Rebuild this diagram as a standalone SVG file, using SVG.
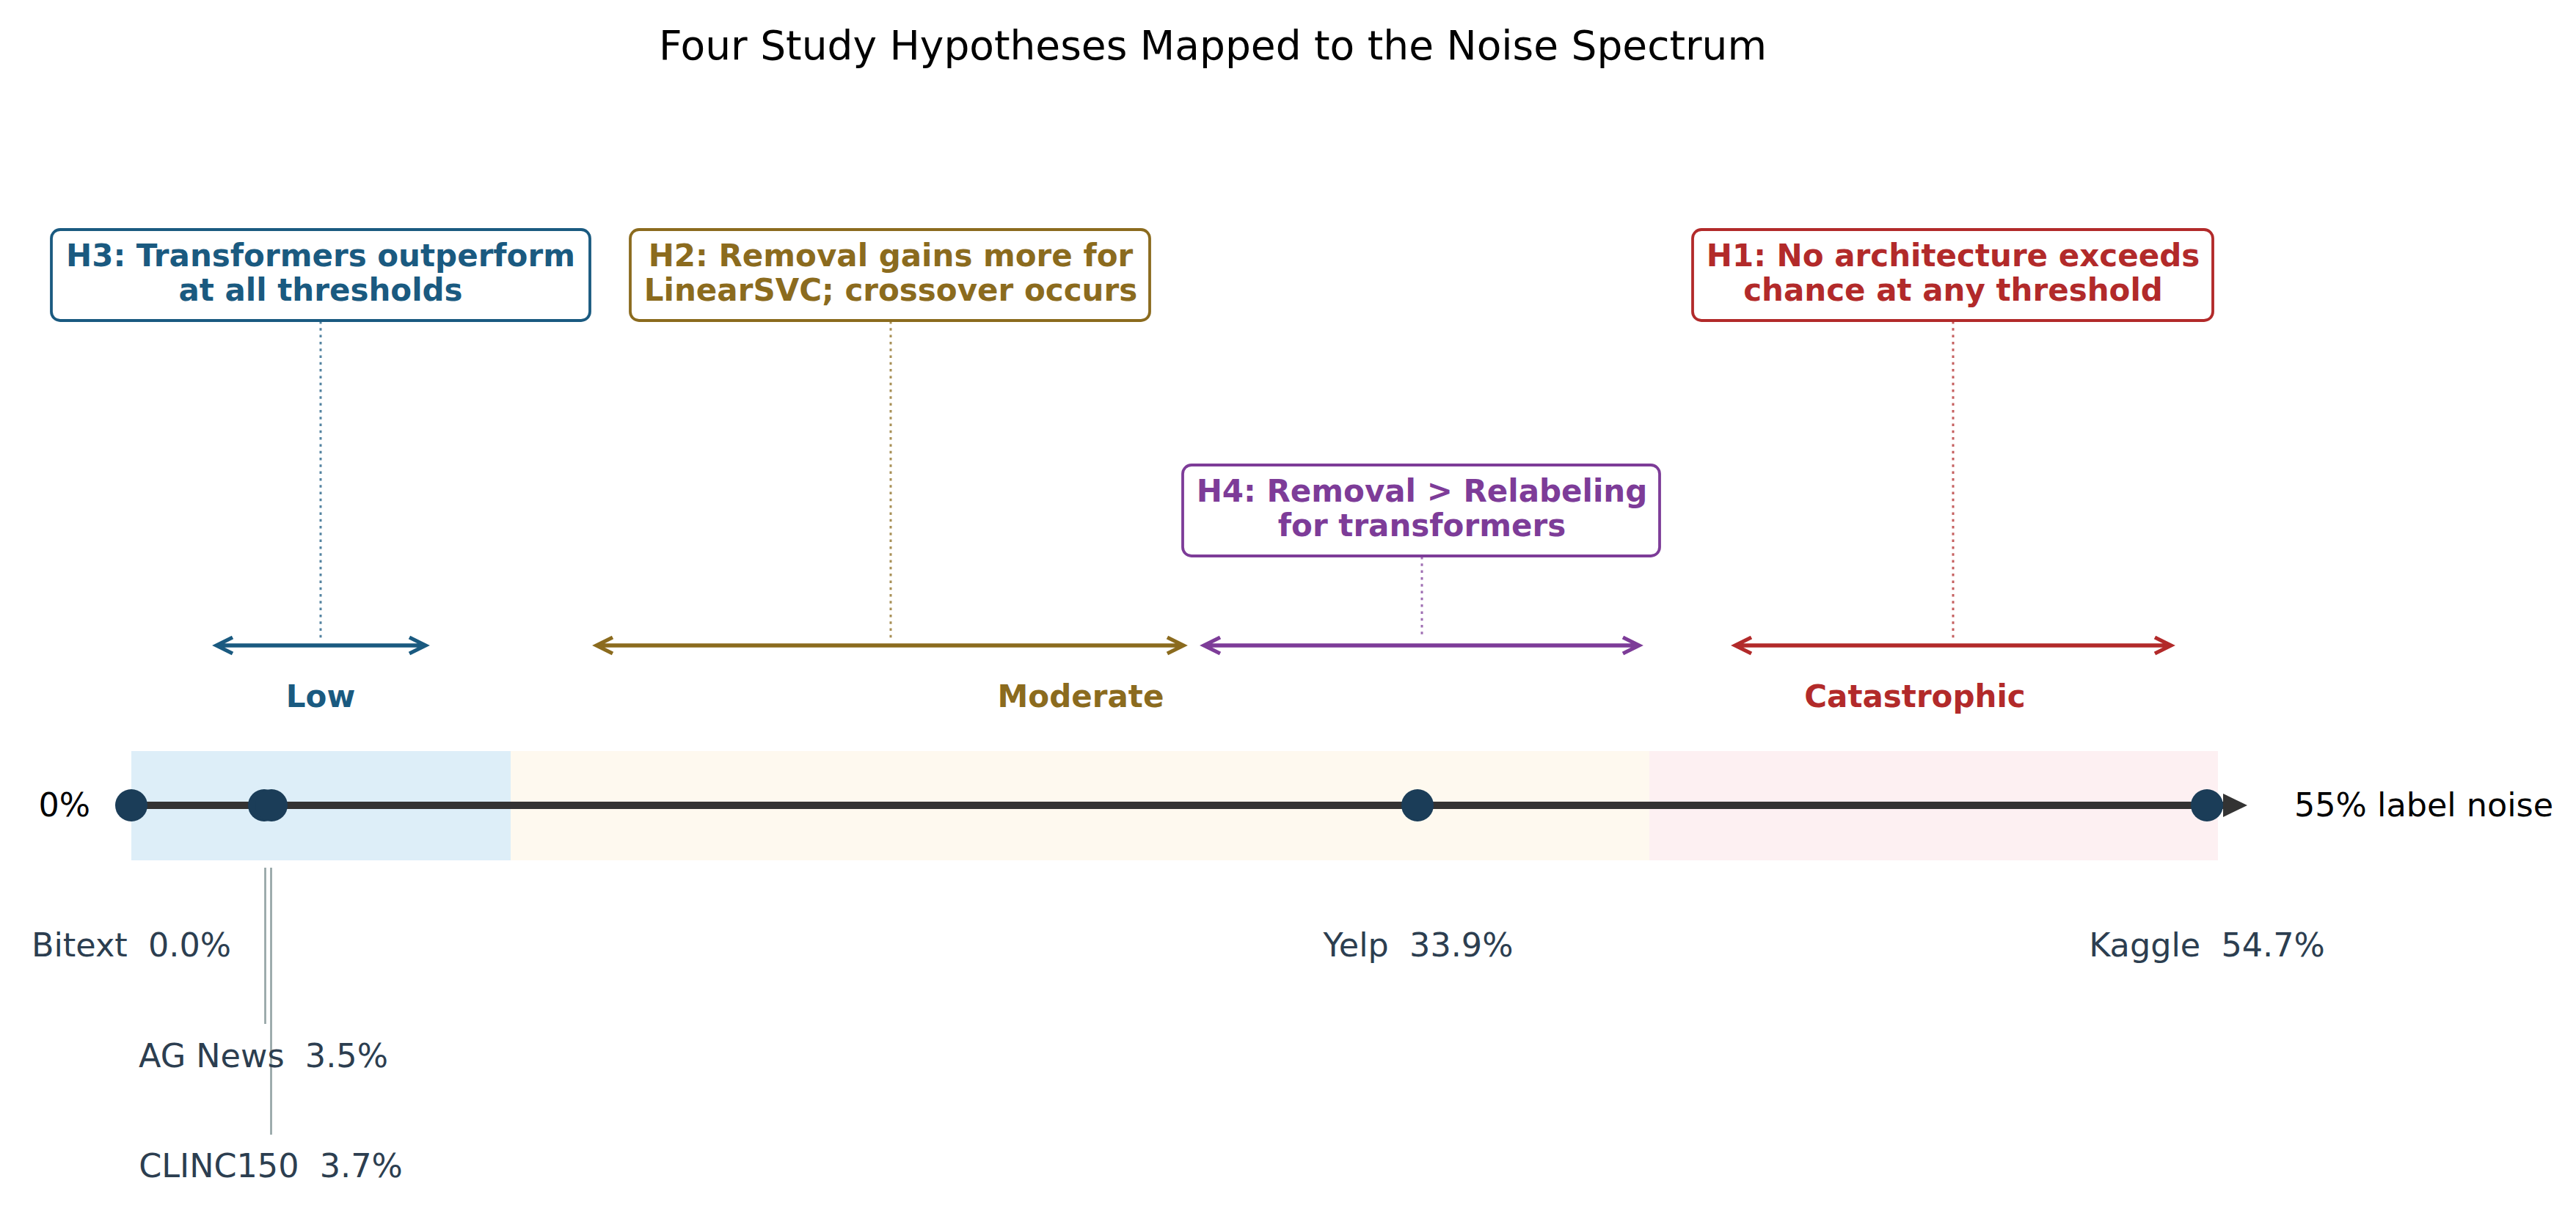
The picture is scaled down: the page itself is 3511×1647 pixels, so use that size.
<svg xmlns="http://www.w3.org/2000/svg" width="3511" height="1647" viewBox="0 0 3511 1647">
<style>
text{font-family:"DejaVu Sans","Liberation Sans",sans-serif;white-space:pre}
.title{font-size:55px;fill:#000;text-anchor:middle}
.hyp{font-size:42px;font-weight:bold;text-anchor:middle}
.box{fill:#fff;stroke-width:3.8}
.band{font-size:42px;font-weight:bold;text-anchor:middle}
.lbl{font-size:44.5px;fill:#2c3e50;text-anchor:middle}
.end{font-size:44.5px;fill:#000}
.dot{fill:#1b3d58}
.lead{stroke:#95a5a6;stroke-width:2.7;fill:none}
.dotted{stroke-width:3;stroke-dasharray:3.5 5.8;opacity:0.75;fill:none}
.rng{stroke-width:5.3;fill:none;stroke-linejoin:miter;stroke-linecap:butt}
.c3{stroke:#1a5a80;fill:#1a5a80}
.c2{stroke:#8b6b1e;fill:#8b6b1e}
.c4{stroke:#7d3c98;fill:#7d3c98}
.c1{stroke:#b22a2a;fill:#b22a2a}
</style>
<rect x="0" y="0" width="3511" height="1647" fill="#fff"/>
<text class="title" x="1653" y="81">Four Study Hypotheses Mapped to the Noise Spectrum</text>

<g id="bands">
<rect x="179" y="1024" width="517" height="149" fill="#ddeef8"/>
<rect x="696" y="1024" width="1552" height="149" fill="#fef9ef"/>
<rect x="2248" y="1024" width="775" height="149" fill="#fdf0f2"/>
</g>

<g id="connectors">
<line class="dotted c3" x1="437" y1="438" x2="437" y2="870" style="fill:none"/>
<line class="dotted c2" x1="1214" y1="438" x2="1214" y2="870" style="fill:none"/>
<line class="dotted c4" x1="1938" y1="759" x2="1938" y2="870" style="fill:none"/>
<line class="dotted c1" x1="2662" y1="438" x2="2662" y2="870" style="fill:none"/>
<path class="rng c3" style="fill:none" d="M295,880 H580 M317,869 L295,880 L317,891 M558,869 L580,880 L558,891"/>
<path class="rng c2" style="fill:none" d="M813,880 H1613 M835,869 L813,880 L835,891 M1591,869 L1613,880 L1591,891"/>
<path class="rng c4" style="fill:none" d="M1641,880 H2234 M1663,869 L1641,880 L1663,891 M2212,869 L2234,880 L2212,891"/>
<path class="rng c1" style="fill:none" d="M2365,880 H2959 M2387,869 L2365,880 L2387,891 M2937,869 L2959,880 L2937,891"/>
<line class="lead" x1="361.5" y1="1183" x2="361.5" y2="1396"/>
<line class="lead" x1="369.5" y1="1183" x2="369.5" y2="1547"/>
</g>

<g id="H3">
<rect class="box c3" style="fill:#fff" x="70" y="313" width="734" height="124" rx="12"/>
<text class="hyp" fill="#1a5a80" x="437" y="363">H3: Transformers outperform</text>
<text class="hyp" fill="#1a5a80" x="437" y="410">at all thresholds</text>
</g>
<g id="H2">
<rect class="box c2" style="fill:#fff" x="859" y="313" width="708" height="124" rx="12"/>
<text class="hyp" fill="#8b6b1e" x="1214" y="363">H2: Removal gains more for</text>
<text class="hyp" fill="#8b6b1e" x="1214" y="410">LinearSVC; crossover occurs</text>
</g>
<g id="H4">
<rect class="box c4" style="fill:#fff" x="1612" y="634" width="650" height="124" rx="12"/>
<text class="hyp" fill="#7d3c98" x="1938" y="684">H4: Removal &gt; Relabeling</text>
<text class="hyp" fill="#7d3c98" x="1938" y="731">for transformers</text>
</g>
<g id="H1">
<rect class="box c1" style="fill:#fff" x="2307" y="313" width="709" height="124" rx="12"/>
<text class="hyp" fill="#b22a2a" x="2662" y="363">H1: No architecture exceeds</text>
<text class="hyp" fill="#b22a2a" x="2662" y="410">chance at any threshold</text>
</g>

<g id="band-labels">
<text class="band" fill="#1a5a80" x="437" y="964">Low</text>
<text class="band" fill="#8b6b1e" x="1473" y="964">Moderate</text>
<text class="band" fill="#b22a2a" x="2610" y="964">Catastrophic</text>
</g>

<g id="axis">
<line x1="179" y1="1098" x2="3036" y2="1098" stroke="#333" stroke-width="10"/>
<polygon points="3030,1082 3063,1098 3030,1114" fill="#333"/>
<text class="end" x="123" y="1113" text-anchor="end">0%</text>
<text class="end" x="3127" y="1113">55% label noise</text>
</g>

<g id="bitext"><circle class="dot" cx="179" cy="1098" r="22"/><text class="lbl" x="179" y="1304" xml:space="preserve">Bitext  0.0%</text></g>
<g id="agnews"><circle class="dot" cx="360" cy="1098" r="22"/><text class="lbl" x="359" y="1455" xml:space="preserve">AG News  3.5%</text></g>
<g id="clinc150"><circle class="dot" cx="370" cy="1098" r="22"/><text class="lbl" x="369" y="1605" xml:space="preserve">CLINC150  3.7%</text></g>
<g id="yelp"><circle class="dot" cx="1932" cy="1098" r="22"/><text class="lbl" x="1933" y="1304" xml:space="preserve">Yelp  33.9%</text></g>
<g id="kaggle"><circle class="dot" cx="3008" cy="1098" r="22"/><text class="lbl" x="3008" y="1304" xml:space="preserve">Kaggle  54.7%</text></g>
</svg>
